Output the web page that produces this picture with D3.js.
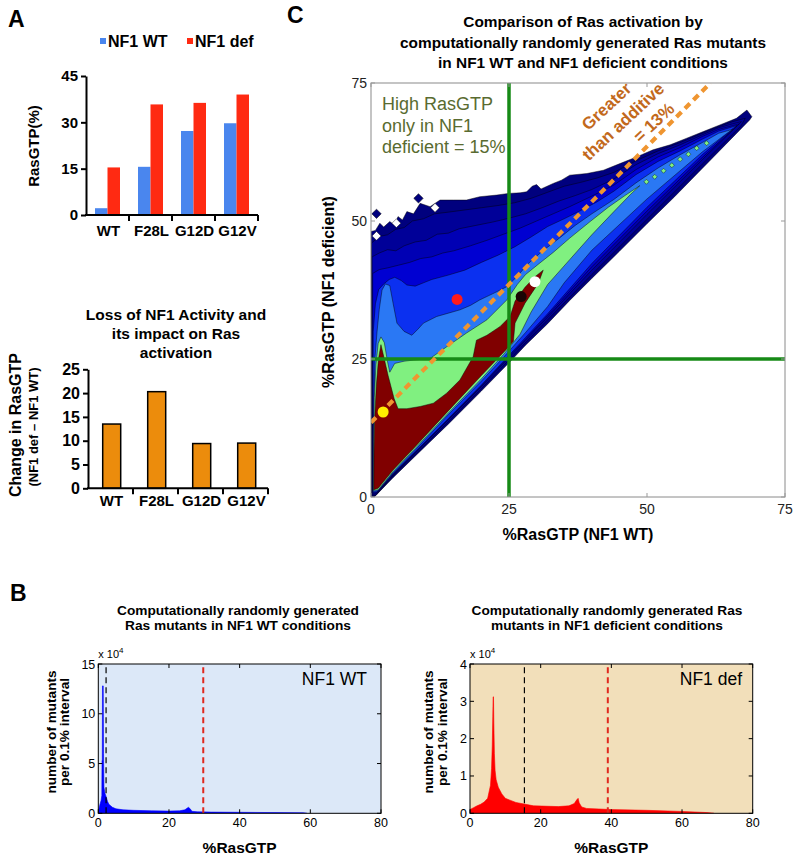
<!DOCTYPE html>
<html><head><meta charset="utf-8">
<script src="https://cdn.jsdelivr.net/npm/d3@7"></script>
<style>
html,body{margin:0;padding:0;background:#fff;}
svg{display:block;}
svg text{font-family:"Liberation Sans",Arial,Helvetica,sans-serif;}
</style></head>
<body>
<svg id="fig" width="800" height="861"></svg>
<script>
// ================= DATA =================
const mutants = ["WT", "F28L", "G12D", "G12V"];
const seriesNames = ["NF1 WT", "NF1 def"];
const rasGtpNf1Wt  = [2.2, 15.6, 27.2, 29.7];
const rasGtpNf1Def = [15.4, 35.8, 36.3, 39.0];
const changeInRasGtp = [13.5, 20.3, 9.4, 9.5];
const ticksRasGtp = [0, 15, 30, 45];
const ticksChange = [0, 5, 10, 15, 20, 25];
const ticksScatter = [0, 25, 50, 75];
const ticksHistX = [0, 20, 40, 60, 80];
const ticksHistWtY = [0, 5, 10, 15];
const ticksHistDefY = [0, 1, 2, 3, 4];
const mutantDotColors = ["#ffee00", "#ff1a1a", "#1a0505", "#ffffff"];
const thresholdLines = [25, 25];             // %RasGTP thresholds (x, y)
const additiveLine = [[0, 13.5], [61.5, 75]]; // "greater than additive" line

// histogram of %RasGTP, NF1 WT (counts x 10^4 per 0.1% interval)
const histNf1Wt = [[0,0],[0.05,0.3],[0.4,0.8],[0.8,1.3],[1.0,1.8],[1.05,5.3],[1.13,5.3],[1.18,12.8],[1.4,12.8],[1.48,6.0],[1.6,2.6],[1.9,2.0],[2.2,1.7],[2.6,1.2],[3,0.9],[4,0.6],[5,0.45],[7,0.35],[10,0.3],[15,0.25],[20,0.22],[23,0.25],[24.5,0.35],[25.5,0.6],[26,0.45],[26.5,0.2],[28,0.15],[32,0.12],[40,0.1],[50,0.07],[58,0.05],[59,0]];
// histogram of %RasGTP, NF1 deficient
const histNf1Def = [[0,0.1],[1,0.15],[2,0.2],[3,0.24],[4,0.3],[5,0.4],[5.8,0.75],[6.1,1.2],[6.3,1.8],[6.45,2.6],[6.55,3.12],[6.65,3.12],[6.75,2.4],[6.9,1.6],[7.1,1.15],[7.4,0.9],[8,0.7],[9,0.52],[10,0.4],[13,0.29],[18,0.2],[25,0.18],[28,0.2],[29.5,0.26],[30.2,0.36],[30.6,0.4],[30.9,0.28],[31.6,0.17],[33,0.13],[40,0.1],[50,0.08],[60,0.05],[67,0.02],[69,0]];

// filled contour levels of mutant density (x = %RasGTP NF1 WT, y = %RasGTP NF1 def), outer -> inner
const contourLevel1 = [[0,0],[0,48.1],[0.8,48.3],[1.6,49.6],[2.3,48.9],[3.4,49.9],[4.2,49.3],[4.9,50.8],[5.7,50.2],[6.5,51.7],[7.7,51.3],[8.9,53.2],[10.7,52.6],[12.5,53.8],[14.9,53.8],[17.3,53.8],[19.7,54.4],[22.8,54.7],[24.9,55],[27,55.1],[28.2,55.3],[29.2,56.3],[30,56.6],[30.8,55.8],[33,56.8],[34.5,57.4],[36,58.3],[39.1,58.6],[42.1,59.2],[45.1,60.4],[48.1,61.6],[51.1,62.9],[54.2,63.8],[57.2,65],[60.2,66.2],[63.2,67.4],[66.2,68.6],[68.1,70.1],[69,68.9],[68.6,68.3],[64,63.6],[60,59.5],[55,54.4],[50,49.5],[45,44.5],[40,39.6],[36,35.6],[32,31.4],[28,27.5],[25,24.3],[20,19.2],[14,13.2],[8,7.4],[4,3.5],[0.6,0]];
const contourLevel2 = [[0.1,0.2],[0.1,46],[1.5,47.2],[3,47.5],[4.5,48.5],[6,48.8],[7.5,50],[9.5,50.4],[11.5,51.3],[14,51.6],[17,52],[20,52.4],[23,52.8],[26,53.3],[29,54.1],[32,55.2],[35,56.3],[38,57],[41,57.8],[44,58.8],[48,60.9],[52,62.7],[56,64.2],[60,65.9],[63,67.1],[65.5,68],[67.8,68.6],[67,67.2],[60,60.3],[50,50.3],[40,40.3],[32,32.1],[28,28],[20,19.6],[14,13.6],[8,7.7],[4,3.8],[0.9,0.3]];
const contourLevel3 = [[0.2,0.4],[0.2,43.5],[1.5,44.2],[3,44.8],[4.5,44.6],[6,45.5],[8,46.2],[10,46.5],[12,47.6],[14,47.8],[16,48.6],[19,49.2],[22,49.8],[25,50.5],[28,51.3],[31,52.4],[34,53.6],[37,54.6],[40,55.7],[44,57.6],[48,60.2],[52,62.2],[56,63.8],[60,65.6],[63,66.9],[65.5,67.6],[67.1,68],[66,66.9],[60,61.1],[50,51.2],[40,41.1],[32,32.6],[28,28.4],[20,20],[14,14],[8,8],[4,4],[1,0.6]];
const contourLevel4 = [[0.3,0.6],[0.3,40.5],[1.5,41.2],[3,41.5],[5,42],[7,42.5],[9,43.2],[11,43.5],[13,44.2],[15,44.6],[18,45.5],[21,46.5],[24,47.6],[27,48.7],[30,50],[33,51.3],[36,52.6],[40,54.5],[44,56.5],[48,59.3],[52,61.6],[56,63.3],[60,65.3],[63,66.6],[66.7,67.6],[65.6,66.6],[60,61.5],[50,51.8],[40,41.7],[32,32.9],[28,28.6],[20,20.2],[14,14.1],[8,8.1],[4,4.1],[1.05,0.75]];
const contourLevel5 = [[0.35,0.8],[0.4,30],[0.8,35],[1.4,37.6],[2.3,38.6],[3.3,39.4],[4.3,39.8],[5.5,39.2],[6.5,38.4],[8,38.2],[9.5,38.8],[11,39.4],[14,40.2],[17,41.1],[20,42.5],[23,43.8],[26,45.3],[29,47.1],[32,49],[35,50.4],[38,51.9],[41,53.5],[44,55.4],[48,58.4],[52,60.8],[56,62.7],[60,64.8],[63,66.3],[66.3,67.3],[65.5,66.7],[60,62],[50,52.5],[40,42.3],[32,33.2],[28,28.9],[20,20.3],[14,14.2],[8,8.2],[4,4.2],[1.1,0.9]];
const contourLevel6 = [[0.4,1],[0.5,16],[0.7,25],[1.1,30],[1.5,34],[2,37.5],[2.6,38.6],[3.4,38.3],[4,35.1],[4.7,31.5],[6,30],[7.4,29.3],[8.5,30.4],[9.5,31.5],[11.9,32.7],[14,33.3],[16.1,33.9],[18,34.7],[19.7,35.7],[22,36.8],[24.6,38.1],[26.5,40],[28.5,42.3],[31,44.5],[34,46.8],[37,49.2],[40,51.3],[44,53.9],[48,56.9],[52,59.6],[56,62],[60,64.2],[63,65.9],[65.5,66.6],[64.5,65.9],[60,62.5],[50,54],[40,44.7],[35,38.8],[32,34.5],[28,29.8],[24,25.3],[20,21],[14,14.9],[8,8.5],[4,4.4],[1.2,1.1]];
const contourLevel7 = [[0.45,1.2],[0.5,10],[0.6,18],[0.9,24],[1.3,27.8],[1.8,29],[2.4,28],[3,24.5],[3.4,22.6],[4.3,24.2],[6,24.6],[7.7,24.8],[10.7,25.1],[13.7,27.2],[17.3,29.7],[21,32.1],[24.6,35.7],[26.5,38.5],[28,40.3],[30.6,42.4],[33,44.3],[36,46.9],[39.7,49.9],[43,52.5],[46,54.6],[48.7,56.4],[47,54.8],[44,51.7],[40,47.5],[36,43],[32,38.5],[29,33.5],[27,29.5],[24,25.8],[20,21.4],[14,15.2],[8,8.8],[4,4.6],[1.3,1.3]];
const contourLevel8 = [[0.5,1.3],[0.55,8],[0.65,14],[0.95,20],[1.35,25],[1.8,27.6],[2.3,25.5],[3.1,22],[4.2,17.8],[4.9,16],[6.5,16],[8.9,16.4],[11.3,17],[13.7,18.8],[16.1,21.2],[18.5,25.4],[19.1,28.4],[21,29.3],[23.4,30.9],[25.2,32.7],[26.1,35.5],[27.9,38],[29.7,39.9],[31.2,41.1],[30.3,38.7],[27.9,35.1],[26.1,31.5],[25.8,28.2],[24.5,26.7],[20,22],[14,15.6],[8,9.1],[4,4.9],[1.3,1.6]];
const contourLevelColors = ["#00007e", "#000098", "#0000b4", "#0000d2", "#0b30f0", "#2a78f4", "#80f080", "#800000"];
const contourIslands = [[1.0, 51.3], [8.6, 54.1]];
const contourNotches = [[1.0, 47.3], [4.6, 49.6], [11.6, 52.4]];
const greenRidgeDots = [[49.9,57.1],[51.4,58],[53,59.1],[54.5,60.1],[56,61.2],[57.5,62.1],[59,63.2],[60.8,64.1]];

// ================= HELPERS =================
const svg = d3.select("#fig");
function txt(p, x, y, s, o = {}) {
  const t = p.append("text").attr("x", x).attr("y", y)
    .attr("font-size", o.size || 14).attr("font-weight", o.weight || "normal")
    .attr("fill", o.fill || "#000").attr("text-anchor", o.anchor || "start").text(s);
  if (o.rotate !== undefined) t.attr("transform", `rotate(${o.rotate},${x},${y})`);
  return t;
}
function styleAxis(g, size, weight) {
  g.attr("font-size", size).attr("font-weight", weight);
  g.selectAll("text").attr("fill", "#000");
}

// ================= PANEL A (top) =================
const gA = svg.append("g");
txt(gA, 8, 27, "A", {size: 23, weight: "bold"});
const barColors = ["#4a86ee", "#ff2a12"];
const legX = [100, 187];
seriesNames.forEach((n, i) => {
  gA.append("rect").attr("x", legX[i]).attr("y", 38).attr("width", 6).attr("height", 6).attr("fill", barColors[i]);
  txt(gA, legX[i] + 8, 47, n, {size: 16, weight: "bold"});
});
const xA = d3.scaleBand().domain(mutants).range([86, 258]);
const xAin = d3.scaleBand().domain([0, 1]).range([9, 34]);
const yA = d3.scaleLinear().domain([0, 45]).range([215, 76]);
[rasGtpNf1Wt, rasGtpNf1Def].forEach((ser, si) => {
  gA.selectAll(null).data(ser).join("rect")
    .attr("x", (d, i) => xA(mutants[i]) + xAin(si)).attr("width", xAin.bandwidth())
    .attr("y", d => yA(d)).attr("height", d => yA(0) - yA(d)).attr("fill", barColors[si]);
});
const axA = gA.append("g").attr("transform", "translate(86,0)")
  .call(d3.axisLeft(yA).tickValues(ticksRasGtp).tickSize(5).tickSizeOuter(0).tickPadding(3));
axA.selectAll("path,line").attr("stroke-width", 2);
styleAxis(axA, 15, "bold");
gA.append("line").attr("x1", 85).attr("x2", xA.range()[1]).attr("y1", yA(0)).attr("y2", yA(0)).attr("stroke", "#000").attr("stroke-width", 2);
mutants.forEach(m => {
  gA.append("line").attr("x1", xA(m) + xA.bandwidth()).attr("x2", xA(m) + xA.bandwidth())
    .attr("y1", yA(0)).attr("y2", yA(0) + 6).attr("stroke", "#000").attr("stroke-width", 2);
  txt(gA, xA(m) + xA.bandwidth() / 2 + 1, 236, m, {size: 15, weight: "bold", anchor: "middle"});
});
txt(gA, 39, 146, "RasGTP(%)", {size: 15, weight: "bold", anchor: "middle", rotate: -90});

// ================= PANEL A (bottom) =================
const gA2 = svg.append("g");
["Loss of NF1 Activity and", "its impact on Ras", "activation"].forEach((l, i) =>
  txt(gA2, 176, 319.5 + i * 19, l, {size: 15.5, weight: "bold", anchor: "middle"}));
const xA2 = d3.scaleBand().domain(mutants).range([88, 268]);
const yA2 = d3.scaleLinear().domain([0, 25]).range([488.3, 369.3]);
const barW2 = 18;
gA2.selectAll(null).data(changeInRasGtp).join("rect")
  .attr("x", (d, i) => xA2(mutants[i]) + (xA2.bandwidth() - barW2) / 2 + 1.2).attr("width", barW2)
  .attr("y", d => yA2(d)).attr("height", d => yA2(0) - yA2(d))
  .attr("fill", "#ec8c0c").attr("stroke", "#000").attr("stroke-width", 1.5);
const axA2 = gA2.append("g").attr("transform", "translate(88,0)")
  .call(d3.axisLeft(yA2).tickValues(ticksChange).tickSize(5).tickSizeOuter(0).tickPadding(3));
axA2.selectAll("path,line").attr("stroke-width", 2);
styleAxis(axA2, 16, "bold");
gA2.append("line").attr("x1", 87).attr("x2", xA2.range()[1]).attr("y1", yA2(0)).attr("y2", yA2(0)).attr("stroke", "#000").attr("stroke-width", 2);
mutants.forEach(m => {
  gA2.append("line").attr("x1", xA2(m) + xA2.bandwidth()).attr("x2", xA2(m) + xA2.bandwidth())
    .attr("y1", yA2(0)).attr("y2", yA2(0) + 6).attr("stroke", "#000").attr("stroke-width", 2);
  txt(gA2, xA2(m) + xA2.bandwidth() / 2 + 1, 506, m, {size: 15, weight: "bold", anchor: "middle"});
});
txt(gA2, 21, 425, "Change in RasGTP", {size: 16, weight: "bold", anchor: "middle", rotate: -90});
txt(gA2, 38, 427, "(NF1 def \u2013 NF1 WT)", {size: 13, weight: "bold", anchor: "middle", rotate: -90});

// ================= PANEL C =================
const gC = svg.append("g");
txt(gC, 287, 23, "C", {size: 23, weight: "bold"});
["Comparison of Ras activation by", "computationally randomly generated Ras mutants", "in NF1 WT and NF1 deficient conditions"]
  .forEach((l, i) => txt(gC, 583, 27 + i * 20.5, l, {size: 15.4, weight: "bold", anchor: "middle"}));
const xC = d3.scaleLinear().domain([0, 75]).range([371, 785]);
const yC = d3.scaleLinear().domain([0, 75]).range([497, 83]);
svg.append("defs").append("clipPath").attr("id", "clipC").append("rect")
  .attr("x", xC(0)).attr("y", yC(75)).attr("width", xC(75) - xC(0)).attr("height", yC(0) - yC(75));
const plotC = gC.append("g").attr("clip-path", "url(#clipC)");
const lineC = d3.line().x(d => xC(d[0])).y(d => yC(d[1]));
const levels = [contourLevel1, contourLevel2, contourLevel3, contourLevel4, contourLevel5, contourLevel6, contourLevel7, contourLevel8];
function diamond(c, h) { return [[c[0] - h, c[1]], [c[0], c[1] + h], [c[0] + h, c[1]], [c[0], c[1] - h]]; }
plotC.selectAll(".isl").data(contourIslands).join("path")
  .attr("d", d => lineC(diamond(d, 0.85)) + "Z").attr("fill", contourLevelColors[0]).attr("stroke", "#000").attr("stroke-width", 0.5);
levels.forEach((poly, i) => {
  plotC.append("path").attr("d", lineC(poly) + "Z").attr("fill", contourLevelColors[i])
    .attr("stroke", "#000").attr("stroke-width", 0.6).attr("stroke-opacity", 0.75).attr("stroke-linejoin", "round");
});
plotC.selectAll(".notch").data(contourNotches).join("path")
  .attr("d", d => lineC(diamond(d, 0.8)) + "Z").attr("fill", "#fff").attr("stroke", "#000").attr("stroke-width", 0.4);
plotC.selectAll(".gd").data(greenRidgeDots).join("path")
  .attr("d", d => lineC(diamond(d, 0.45)) + "Z").attr("fill", contourLevelColors[6]).attr("stroke", "#000").attr("stroke-width", 0.4);
// threshold lines
plotC.append("line").attr("x1", xC(thresholdLines[0])).attr("x2", xC(thresholdLines[0])).attr("y1", yC(0)).attr("y2", yC(75))
  .attr("stroke", "#168a16").attr("stroke-width", 3.5);
plotC.append("line").attr("x1", xC(0)).attr("x2", xC(75)).attr("y1", yC(thresholdLines[1])).attr("y2", yC(thresholdLines[1]))
  .attr("stroke", "#168a16").attr("stroke-width", 3.5);
// additive line
plotC.append("path").attr("d", lineC(additiveLine)).attr("stroke", "#ef9530").attr("stroke-width", 4.2)
  .attr("stroke-dasharray", "7,5").attr("fill", "none");
// mutant dots
plotC.selectAll(".md").data(mutants).join("circle")
  .attr("cx", (d, i) => xC(rasGtpNf1Wt[i])).attr("cy", (d, i) => yC(rasGtpNf1Def[i])).attr("r", 5.5)
  .attr("fill", (d, i) => mutantDotColors[i]);
// frame + ticks
gC.append("rect").attr("x", xC(0)).attr("y", yC(75)).attr("width", xC(75) - xC(0)).attr("height", yC(0) - yC(75))
  .attr("fill", "none").attr("stroke", "#8a8a8a").attr("stroke-width", 1);
ticksScatter.forEach(t => {
  gC.append("line").attr("x1", xC(t)).attr("x2", xC(t)).attr("y1", yC(0)).attr("y2", yC(0) - 4).attr("stroke", "#999");
  gC.append("line").attr("x1", xC(t)).attr("x2", xC(t)).attr("y1", yC(75)).attr("y2", yC(75) + 4).attr("stroke", "#999");
  gC.append("line").attr("x1", xC(0)).attr("x2", xC(0) + 4).attr("y1", yC(t)).attr("y2", yC(t)).attr("stroke", "#999");
  gC.append("line").attr("x1", xC(75)).attr("x2", xC(75) - 4).attr("y1", yC(t)).attr("y2", yC(t)).attr("stroke", "#999");
  txt(gC, xC(t), 513.5, t, {size: 14, anchor: "middle", fill: "#222"});
  txt(gC, 367, yC(t) + 5, t, {size: 14, anchor: "end", fill: "#222"});
});
txt(gC, 578, 540, "%RasGTP (NF1 WT)", {size: 16, weight: "bold", anchor: "middle"});
txt(gC, 334, 292, "%RasGTP (NF1 deficient)", {size: 16, weight: "bold", anchor: "middle", rotate: -90});
["High RasGTP", "only in NF1", "deficient = 15%"].forEach((l, i) =>
  txt(gC, 382, 110 + i * 21.5, l, {size: 18, fill: "#596b30"}));
[["Greater", 606.7, 106.7], ["than additive", 623.3, 121.7], ["= 13%", 654, 122.7]].forEach(d => {
  gC.append("text").attr("transform", `translate(${d[1]},${d[2]}) rotate(-43)`)
    .attr("text-anchor", "middle").attr("dominant-baseline", "central")
    .attr("font-size", 17).attr("font-weight", "bold").attr("fill", "#c2691c").text(d[0]);
});

// ================= PANEL B =================
const gB = svg.append("g");
txt(gB, 10, 601, "B", {size: 23, weight: "bold"});
function histPanel(cfg) {
  const g = gB.append("g");
  const x = d3.scaleLinear().domain([0, 80]).range([cfg.x0, cfg.x1]);
  const y = d3.scaleLinear().domain([0, cfg.yMax]).range([813.3, 664]);
  cfg.title.forEach((l, i) => txt(g, cfg.tc, 615 + i * 15, l, {size: 13.7, weight: "bold", anchor: "middle"}));
  g.append("rect").attr("x", x(0)).attr("y", y(cfg.yMax)).attr("width", x(80) - x(0)).attr("height", y(0) - y(cfg.yMax)).attr("fill", cfg.bg);
  const cid = "clip" + cfg.id;
  svg.select("defs").append("clipPath").attr("id", cid).append("rect")
    .attr("x", x(0)).attr("y", y(cfg.yMax)).attr("width", x(80) - x(0)).attr("height", y(0) - y(cfg.yMax));
  const pg = g.append("g").attr("clip-path", `url(#${cid})`);
  pg.append("path").datum(cfg.data)
    .attr("d", d3.area().x(d => x(d[0])).y0(y(0)).y1(d => y(d[1])))
    .attr("fill", cfg.color).attr("stroke", cfg.color).attr("stroke-width", 0.6);
  pg.append("line").attr("x1", x(cfg.blackLine)).attr("x2", x(cfg.blackLine)).attr("y1", y(0)).attr("y2", y(cfg.yMax))
    .attr("stroke", "#000").attr("stroke-width", 1.2).attr("stroke-dasharray", "6,4");
  pg.append("line").attr("x1", x(cfg.redLine)).attr("x2", x(cfg.redLine)).attr("y1", y(0)).attr("y2", y(cfg.yMax))
    .attr("stroke", "#e0281e").attr("stroke-width", 2).attr("stroke-dasharray", "6,4");
  g.append("rect").attr("x", x(0)).attr("y", y(cfg.yMax)).attr("width", x(80) - x(0)).attr("height", y(0) - y(cfg.yMax))
    .attr("fill", "none").attr("stroke", "#000").attr("stroke-width", 1);
  ticksHistX.forEach(t => {
    g.append("line").attr("x1", x(t)).attr("x2", x(t)).attr("y1", y(0)).attr("y2", y(0) - 4).attr("stroke", "#000");
    g.append("line").attr("x1", x(t)).attr("x2", x(t)).attr("y1", y(cfg.yMax)).attr("y2", y(cfg.yMax) + 4).attr("stroke", "#000");
    txt(g, x(t), 827, t, {size: 12.5, anchor: "middle"});
  });
  cfg.yTicks.forEach(t => {
    g.append("line").attr("x1", x(0)).attr("x2", x(0) + 4).attr("y1", y(t)).attr("y2", y(t)).attr("stroke", "#000");
    g.append("line").attr("x1", x(80)).attr("x2", x(80) - 4).attr("y1", y(t)).attr("y2", y(t)).attr("stroke", "#000");
    txt(g, x(0) - 3, y(t) + 4.5, t, {size: 12.5, anchor: "end"});
  });
  const e = txt(g, x(0), 658, "x 10", {size: 11});
  e.append("tspan").attr("dy", -5).attr("font-size", 8).text("4");
  txt(g, cfg.labelRight, 685, cfg.label, {size: 17.5, anchor: "end"});
  txt(g, (x(0) + x(80)) / 2, 853, "%RasGTP", {size: 15.5, weight: "bold", anchor: "middle"});
  txt(g, cfg.yl1, 732, "number of mutants", {size: 13.6, weight: "bold", anchor: "middle", rotate: -90});
  txt(g, cfg.yl2, 732, "per 0.1% interval", {size: 13.6, weight: "bold", anchor: "middle", rotate: -90});
}
histPanel({id: "wt", x0: 98.3, x1: 381, yMax: 15, yTicks: ticksHistWtY, data: histNf1Wt, color: "#0000ff", bg: "#dce8f8",
  blackLine: rasGtpNf1Wt[0], redLine: rasGtpNf1Wt[3], label: "NF1 WT", labelRight: 367, tc: 238,
  title: ["Computationally randomly generated", "Ras mutants in NF1 WT conditions"], yl1: 56, yl2: 69});
histPanel({id: "def", x0: 470, x1: 752.7, yMax: 4, yTicks: ticksHistDefY, data: histNf1Def, color: "#ff0000", bg: "#f2dfba",
  blackLine: rasGtpNf1Def[0], redLine: rasGtpNf1Def[3], label: "NF1 def", labelRight: 742, tc: 607,
  title: ["Computationally randomly generated Ras", "mutants in NF1 deficient conditions"], yl1: 433, yl2: 447});
</script>
</body></html>
